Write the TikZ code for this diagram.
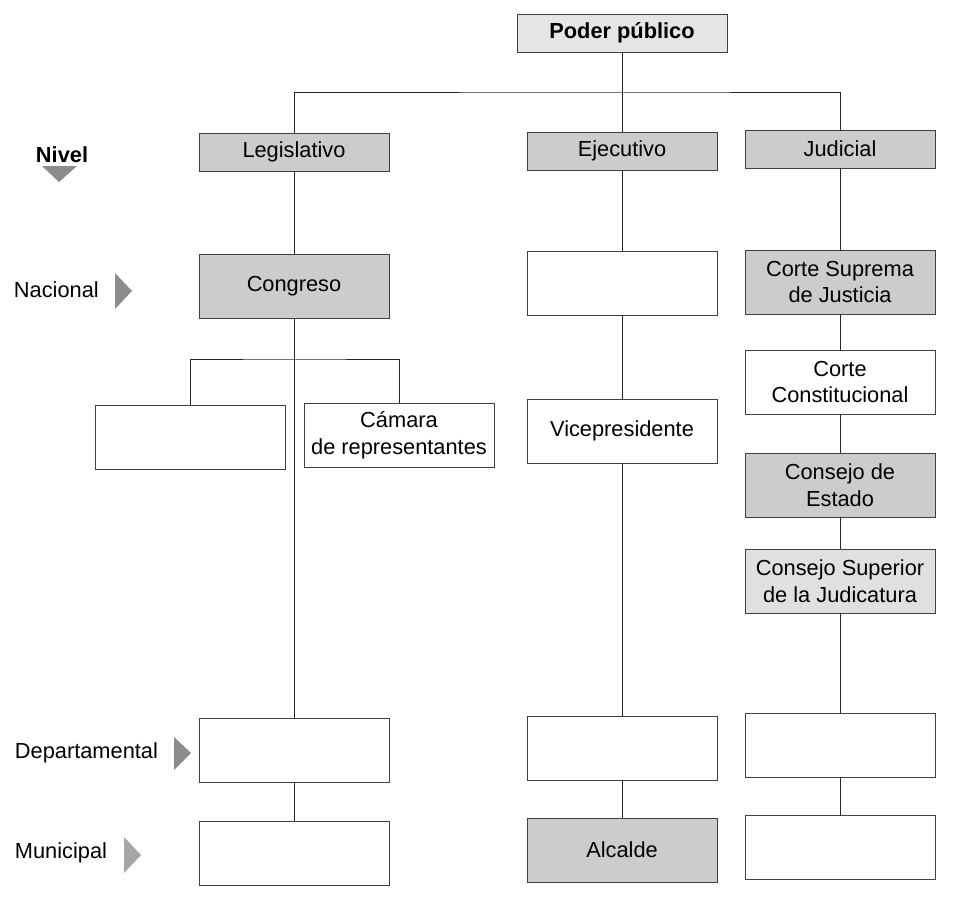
\documentclass[tikz,border=0pt]{standalone}
\usepackage{fontspec}
\setmainfont{Liberation Sans}
\usetikzlibrary{calc,positioning}
\begin{document}
\begin{tikzpicture}[x=0.025cm,y=-0.025cm,
        every node/.style={font=\fontsize{15.5}{19}\selectfont},
        caja/.style={draw=black!75, line width=0.6pt, fill=white, minimum width=4.75cm, minimum height=1.6cm, align=center, inner sep=1pt},
        gris/.style={caja, fill=black!20},
        baja/.style={minimum height=0.95cm},
        flecha/.style={fill=black!45, draw=none},
        linea/.style={draw=black!85, line width=0.6pt}]
        \useasboundingbox (0,0) rectangle (957,908);

        \node[caja, fill=black!10, baja, minimum width=5.25cm, font=\fontsize{15.5}{19}\selectfont\bfseries] (poder) at (622,33) {Poder público};

        \node[gris, baja] (leg) at (294,152) {Legislativo};
        \node[gris, baja] (eje) at (622,151) {Ejecutivo};
        \node[gris, baja] (jud) at (840,149) {Judicial};

        \node[gris] (cong) at (294,286) {Congreso};
        \node[caja] (ejenac) at (622,283) {};
        \node[gris] (suprema) at (840,282) {Corte Suprema\\de Justicia};

        \coordinate (brk) at (294,359);
        \node[caja] (izq) at (190,437) {};
        \node[caja] (camara) at (399,435) {Cámara\\de representantes};
        \node[caja] (vice) at (622,431) {Vicepresidente};

        \node[caja] (constit) at (840,382) {Corte\\Constitucional};
        \node[gris] (estado) at (840,485) {Consejo de\\Estado};
        \node[gris, fill=black!12] (superior) at (840,581) {Consejo Superior\\de la Judicatura};

        \node[caja] (legdep) at (294,750) {};
        \node[caja] (ejedep) at (622,748) {};
        \node[caja] (juddep) at (840,745) {};

        \node[caja] (legmun) at (294,853) {};
        \node[gris] (alcalde) at (622,850) {Alcalde};
        \node[caja] (judmun) at (840,847) {};

        \node[anchor=west, font=\fontsize{15.5}{19}\selectfont\bfseries] (nivel) at (31,155) {Nivel};
        \node[anchor=west] (nacional) at (9,290) {Nacional};
        \node[anchor=west] (departamental) at (10,753) {Departamental};
        \node[anchor=west] (municipal) at (10,853) {Municipal};

        \fill[flecha] (42,166) -- (77,166) -- (59,182) -- cycle;
        \fill[flecha] (115,273) -- (132,291) -- (115,309) -- cycle;
        \fill[flecha] (174,737) -- (191,753) -- (174,770) -- cycle;
        \fill[flecha, fill=black!35] (124,837) -- (141,855) -- (124,873) -- cycle;

        \draw[linea] (poder) -- (eje);
        \draw[linea] (leg) |- ($(poder.south)!0.5!(eje.north)$) -| (jud);
        \draw[linea] (leg) -- (cong) -- (legdep) -- (legmun);
        \draw[linea] (izq) |- (brk) -| (camara);
        \draw[linea] (eje) -- (ejenac) -- (vice) -- (ejedep) -- (alcalde);
        \draw[linea] (jud) -- (suprema) -- (constit) -- (estado) -- (superior) -- (juddep) -- (judmun);
    \end{tikzpicture}
\end{document}
